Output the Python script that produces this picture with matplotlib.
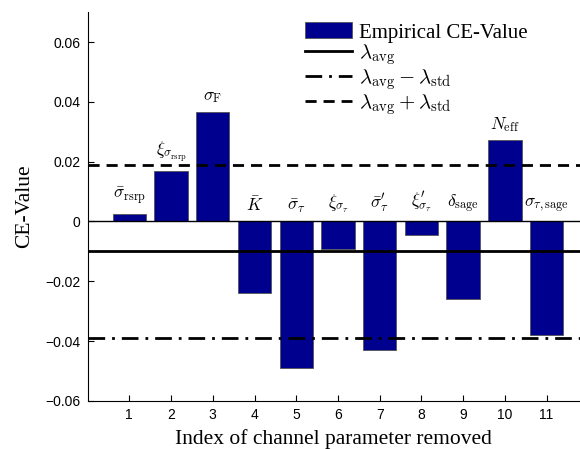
import matplotlib
matplotlib.use("Agg")
import matplotlib.pyplot as plt
import numpy as np

plt.rcParams['mathtext.fontset'] = 'cm'

indices = [1, 2, 3, 4, 5, 6, 7, 8, 9, 10, 11]
ce_values = [0.0026, 0.0170, 0.0367, -0.0240, -0.0490, -0.0092, -0.0428, -0.0044, -0.0260, 0.0272, -0.0380]
param_labels = [r'$\bar{\sigma}_{\rm rsrp}$', r'$\xi_{\sigma_{\rm rsrp}}$', r'$\sigma_{\rm F}$',
                r'$\bar{K}$', r'$\bar{\sigma}_{\tau}$', r'$\xi_{\sigma_{\tau}}$', r'$\bar{\sigma}^{\prime}_{\tau}$',
                r'$\xi^{\prime}_{\sigma_{\tau}}$', r'$\delta_{\rm sage}$', r'$N_{\rm eff}$', r'$\sigma_{\tau,{\rm sage}}$']
lambda_avg = -0.0100
lambda_std = 0.0289
yticks = [-0.06, -0.04, -0.02, 0, 0.02, 0.04, 0.06]
ytick_labels = ['\u22120.06', '\u22120.04', '\u22120.02', '0', '0.02', '0.04', '0.06']

fig = plt.figure(figsize=(5.8, 4.49), dpi=100)
ax = fig.add_axes([0.151, 0.107, 0.849, 0.866])

bars = ax.bar(indices, ce_values, width=0.8, color='#00008f', edgecolor='#555555', linewidth=0.6,
              label='Empirical CE-Value', zorder=2)
ax.axhline(0, color='black', linewidth=1.0, zorder=3)
l1 = ax.axhline(lambda_avg, color='black', linewidth=2.0, linestyle='-', label=r'$\lambda_{\rm avg}$', zorder=4)
l2 = ax.axhline(lambda_avg - lambda_std, color='black', linewidth=2.0, linestyle=(0, (6, 2.5, 1, 2.5)),
                label=r'$\lambda_{\rm avg}-\lambda_{\rm std}$', zorder=4)
l3 = ax.axhline(lambda_avg + lambda_std, color='black', linewidth=2.0, linestyle=(0, (4, 2.5)),
                label=r'$\lambda_{\rm avg}+\lambda_{\rm std}$', zorder=4)

for i, v, lab in zip(indices, ce_values, param_labels):
    ax.text(i, max(v, 0) + 0.0022, lab, ha='center', va='bottom', fontsize=12.5)

ax.set_xlim(0, 11.8)
ax.set_ylim(-0.06, 0.07)
ax.set_xticks(indices)
ax.set_xticklabels([str(i) for i in indices], fontsize=10, family='Liberation Sans')
ax.set_yticks(yticks)
ax.set_yticklabels(ytick_labels, fontsize=10, family='Liberation Sans')
ax.tick_params(direction='in', length=4, width=0.8, top=False, right=False, pad=5)
ax.spines['top'].set_visible(False)
ax.spines['right'].set_visible(False)

ax.set_xlabel('Index of channel parameter removed', family='Liberation Serif', fontsize=15.5, labelpad=5)
ax.set_ylabel('CE-Value', family='Liberation Serif', fontsize=15.5, labelpad=8)

leg = ax.legend([bars, l1, l2, l3], [bars.get_label(), l1.get_label(), l2.get_label(), l3.get_label()],
                loc='upper right', bbox_to_anchor=(0.91, 0.995), frameon=False,
                prop={'family': 'Liberation Serif', 'size': 15}, handlelength=2.3, handleheight=0.8,
                labelspacing=0.0, handletextpad=0.3, borderaxespad=0.0)

fig.savefig('out.png', dpi=100)
